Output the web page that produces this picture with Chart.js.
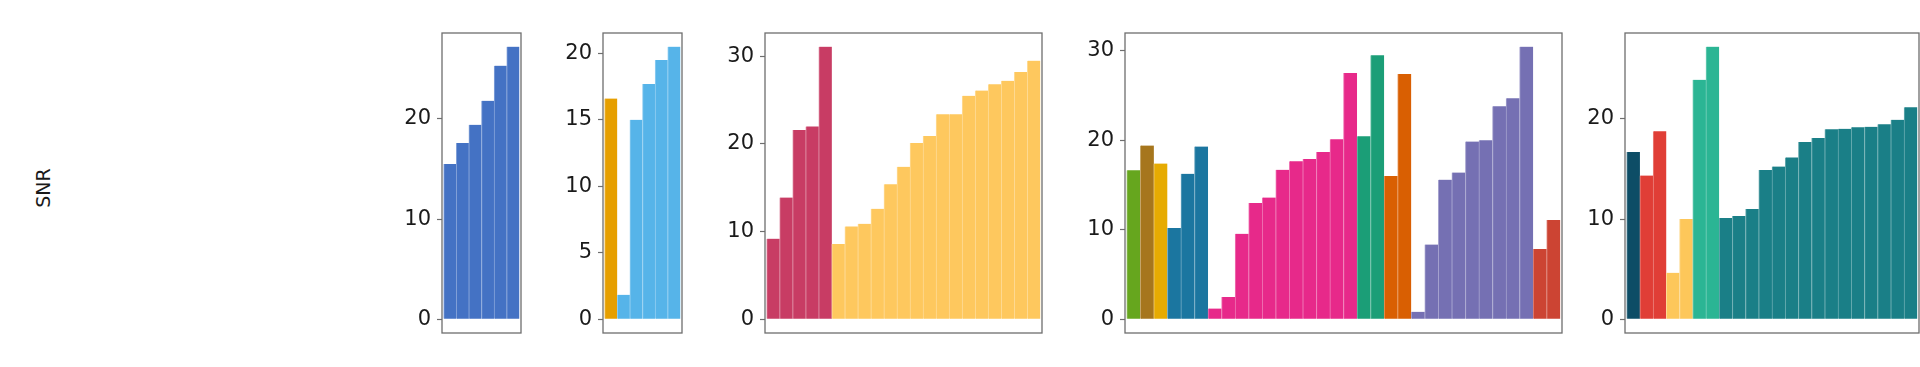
<!DOCTYPE html>
<html><head><meta charset="utf-8">
<script src="https://cdn.jsdelivr.net/npm/chart.js@4.4.1/dist/chart.umd.min.js"></script>
<style>
html,body{margin:0;padding:0;background:#fff;width:1920px;height:367px;overflow:hidden;position:relative;}
canvas{position:absolute;top:0;}
#ylab{position:absolute;left:43px;top:188px;transform:translate(-50%,-50%) rotate(-90deg);font-family:"DejaVu Sans",sans-serif;font-size:19px;color:#1a1a1a;white-space:nowrap;}
</style></head><body>
<div id="ylab">SNR</div>
<canvas id="c1"></canvas><canvas id="c2"></canvas><canvas id="c3"></canvas><canvas id="c4"></canvas><canvas id="c5"></canvas>
<script>
// ---- data ----
const yLabel = "SNR";

const p1Values = [15.5, 17.6, 19.4, 21.8, 25.3, 27.2];
const p1GroupSizes = [6];
const p1Colors = ["#4472C4"];
const p1Ticks = [0, 10, 20];

const p2Values = [16.6, 1.85, 15.0, 17.7, 19.5, 20.5];
const p2GroupSizes = [1, 5];
const p2Colors = ["#E69F00", "#56B4E9"];
const p2Ticks = [0, 5, 10, 15, 20];

const p3Values = [9.2, 13.9, 21.6, 22.0, 31.1,
  8.6, 10.6, 10.9, 12.6, 15.4, 17.4, 20.1, 20.9, 23.4, 23.4, 25.5, 26.1, 26.8, 27.2, 28.2, 29.5];
const p3GroupSizes = [5, 16];
const p3Colors = ["#C83C64", "#FEC85E"];
const p3Ticks = [0, 10, 20, 30];

const p4Values = [16.65, 19.4, 17.4, 10.2, 16.25, 19.3,
  1.2, 2.5, 9.55, 13.0, 13.6, 16.7, 17.65, 17.9, 18.7, 20.1, 27.5,
  20.45, 29.5, 16.0, 27.4,
  0.85, 8.35, 15.6, 16.4, 19.85, 20.0, 23.8, 24.7, 30.45,
  7.85, 11.08];
const p4GroupSizes = [1, 1, 1, 3, 11, 2, 2, 9, 2];
const p4Colors = ["#66A61E", "#A6761D", "#E6AB02", "#1B76A0", "#E7298A", "#1B9E77", "#D95F02", "#7570B3", "#CC4433"];
const p4Ticks = [0, 10, 20, 30];

const p5Values = [16.7, 14.35, 18.75, 4.65, 10.0, 23.9, 27.2,
  10.1, 10.3, 11.0, 14.9, 15.25, 16.15, 17.7, 18.1, 18.95, 19.0, 19.15, 19.2, 19.45, 19.9, 21.15];
const p5GroupSizes = [1, 2, 2, 2, 15];
const p5Colors = ["#0D4D66", "#E03E36", "#FDC75A", "#2BB594", "#1A7F87"];
const p5Ticks = [0, 10, 20];

// ---- layout ----
const frames = [
  {left: 442, right: 521},
  {left: 603, right: 682},
  {left: 765, right: 1042},
  {left: 1125, right: 1562},
  {left: 1625, right: 1919}
];
const TOP = 33, BOTTOM = 333, H = 367, AXW = 70, RPAD = 1;

function lighten(hex, t) {
  const r = parseInt(hex.slice(1,3),16), g = parseInt(hex.slice(3,5),16), b = parseInt(hex.slice(5,7),16);
  const m = v => Math.round(v + (255 - v) * t);
  return `rgb(${m(r)},${m(g)},${m(b)})`;
}
function expand(sizes, arr) {
  const out = [];
  sizes.forEach((n, i) => { for (let k = 0; k < n; k++) out.push(arr[i]); });
  return out;
}

const framePlugin = {
  id: 'frame',
  afterDatasetsDraw(chart) {
    const a = chart.chartArea, ctx = chart.ctx;
    ctx.save();
    ctx.strokeStyle = '#6e6e6e';
    ctx.lineWidth = 1.3;
    ctx.strokeRect(a.left, a.top, a.right - a.left, a.bottom - a.top);
    ctx.restore();
  }
};

function makePanel(id, frame, values, sizes, colors, ticks) {
  const cv = document.getElementById(id);
  const w = AXW + (frame.right - frame.left) + RPAD;
  cv.width = w; cv.height = H;
  cv.style.left = (frame.left - AXW) + 'px';
  cv.style.width = w + 'px'; cv.style.height = H + 'px';
  const n = values.length;
  const vmax = Math.max(...values);
  const bg = expand(sizes, colors);
  const bc = bg.map(c => lighten(c, 0.35));
  new Chart(cv, {
    type: 'bar',
    data: {
      datasets: [{
        data: values.map((v, i) => ({x: i, y: v})),
        backgroundColor: bg,
        borderColor: bc,
        borderWidth: {left: 1, right: 0, top: 0, bottom: 0},
        borderSkipped: false,
        barPercentage: 1,
        categoryPercentage: 1
      }]
    },
    options: {
      responsive: false,
      animation: false,
      devicePixelRatio: 1,
      layout: {padding: {top: TOP, bottom: H - BOTTOM, left: 0, right: RPAD}},
      plugins: {legend: {display: false}, tooltip: {enabled: false}},
      scales: {
        x: {
          type: 'linear', display: false, offset: false,
          min: -0.63, max: n - 0.37,
          grid: {display: false}
        },
        y: {
          min: -0.05 * vmax, max: 1.05 * vmax,
          afterBuildTicks: s => { s.ticks = ticks.map(v => ({value: v})); },
          afterFit: s => { s.width = AXW; },
          border: {display: false},
          grid: {drawOnChartArea: false, drawTicks: true, tickLength: 5, color: '#6e6e6e', tickWidth: 1.2},
          ticks: {
            padding: 6, color: '#1a1a1a',
            font: {family: '"DejaVu Sans", sans-serif', size: 21},
            callback: v => String(v)
          }
        }
      }
    },
    plugins: [framePlugin]
  });
}

makePanel('c1', frames[0], p1Values, p1GroupSizes, p1Colors, p1Ticks);
makePanel('c2', frames[1], p2Values, p2GroupSizes, p2Colors, p2Ticks);
makePanel('c3', frames[2], p3Values, p3GroupSizes, p3Colors, p3Ticks);
makePanel('c4', frames[3], p4Values, p4GroupSizes, p4Colors, p4Ticks);
makePanel('c5', frames[4], p5Values, p5GroupSizes, p5Colors, p5Ticks);
</script>
</body></html>
